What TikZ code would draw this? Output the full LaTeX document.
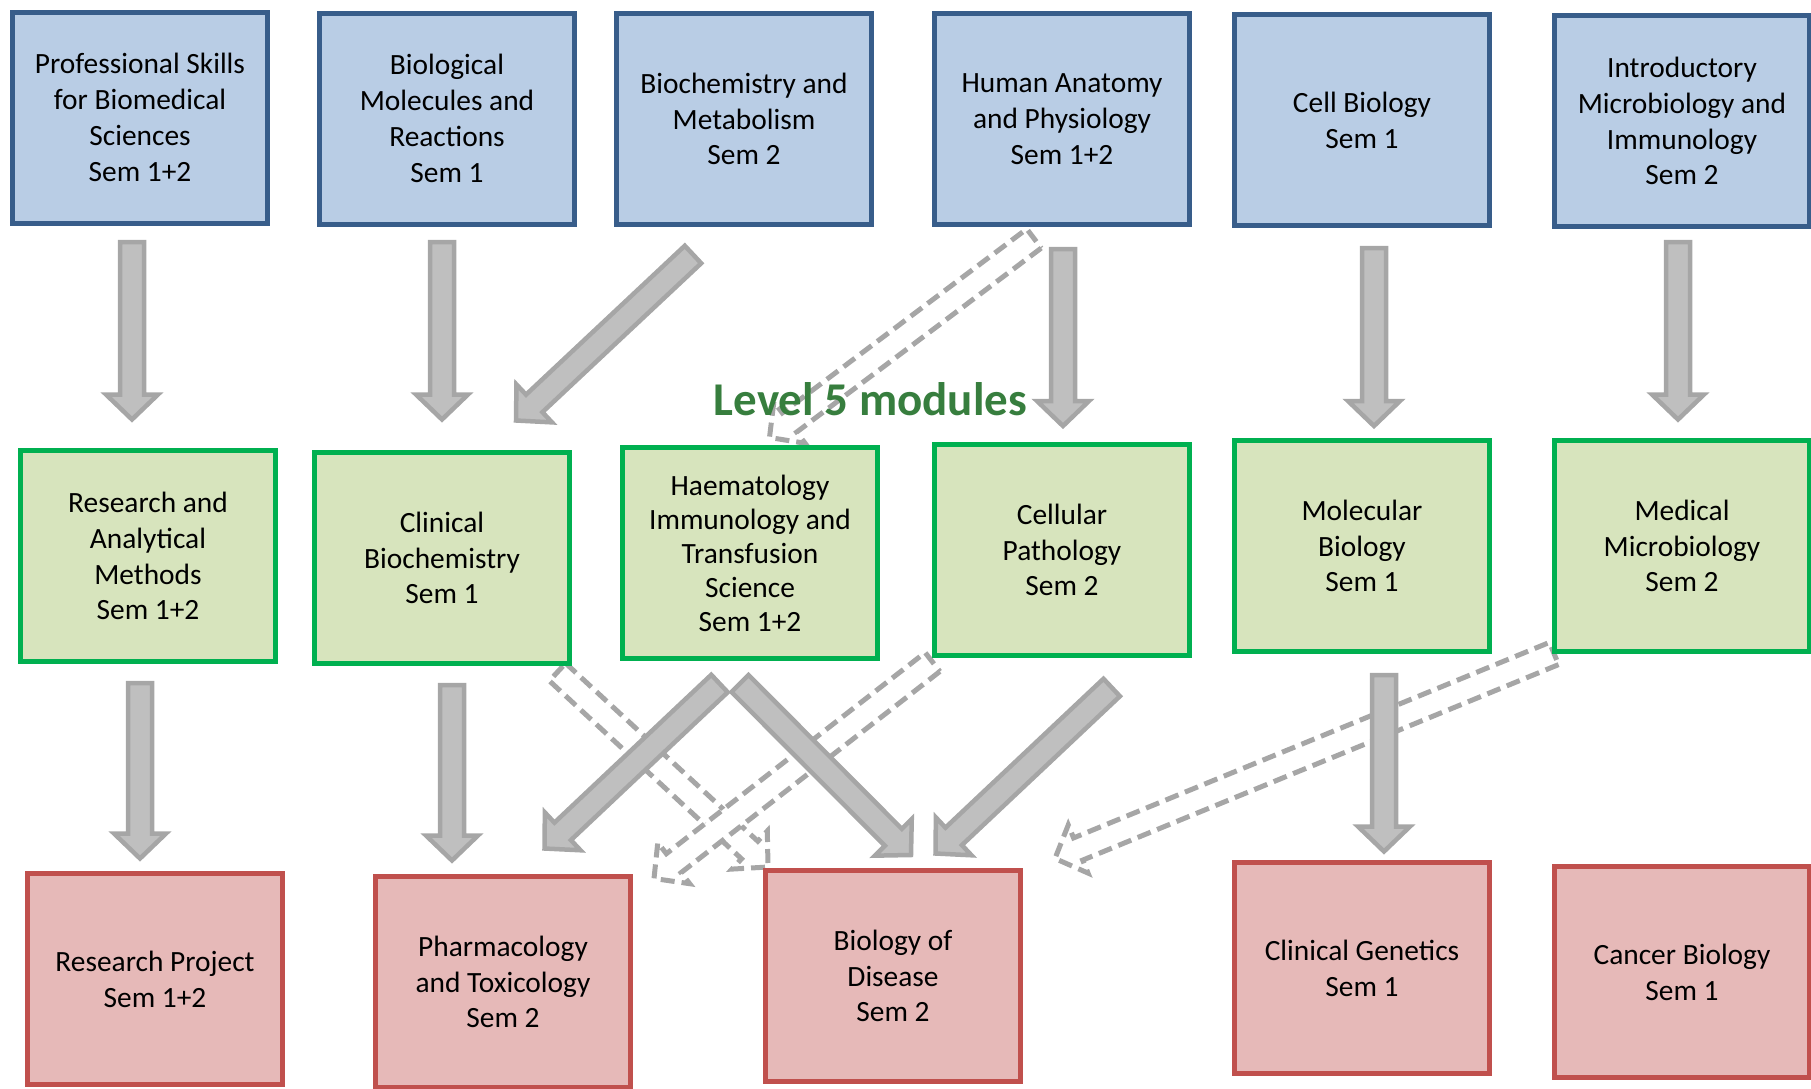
\documentclass[tikz,border=0pt]{standalone}
\usepackage{fontspec}
\setmainfont{Carlito}
\usetikzlibrary{calc}
\definecolor{bluefill}{RGB}{185,205,229}
\definecolor{blueline}{RGB}{56,93,138}
\definecolor{greenfill}{RGB}{215,228,189}
\definecolor{greenline}{RGB}{0,176,80}
\definecolor{redfill}{RGB}{230,185,184}
\definecolor{redline}{RGB}{192,80,77}
\definecolor{arrowfill}{RGB}{191,191,191}
\definecolor{arrowline}{RGB}{166,166,166}
\definecolor{titlegreen}{RGB}{55,126,62}
\pgfdeclarelayer{bg}
\pgfsetlayers{bg,main}
\tikzset{
	modbox/.style={rectangle,line width=2.5pt,minimum width=127.5pt,minimum height=105.5pt,inner sep=0pt,align=center,font=\fontsize{14.7}{17.9}\selectfont},
	lvfour/.style={modbox,fill=bluefill,draw=blueline},
	lvfive/.style={modbox,fill=greenfill,draw=greenline},
	lvsix/.style={modbox,fill=redfill,draw=redline},
	arrowbody/.style={fill=arrowfill,draw=arrowline,line width=2.25pt,line join=miter},
	dasharrow/.style={fill=white,draw=arrowline,line width=2.5pt,line join=miter,dash pattern=on 7pt off 3.5pt},
	lvtitle/.style={anchor=base,inner sep=0pt,text=titlegreen,font=\fontsize{23.5}{28}\selectfont\bfseries}
}
\newcommand{\blockarrow}[3][arrowbody]{%
	\path #2 coordinate (ta) #3 coordinate (tb);
	\path ($(tb)!12.5pt!(ta)$) coordinate (th);
	\draw [#1] ($(ta)!6pt!90:(tb)$) -- ($(th)!6pt!90:(tb)$) -- ($(th)!13pt!90:(tb)$) -- (tb)
		-- ($(th)!13pt!-90:(tb)$) -- ($(th)!6pt!-90:(tb)$) -- ($(ta)!6pt!-90:(tb)$) -- cycle;
}

\begin{document}
\begin{tikzpicture}[x=0.5pt,y=-0.5pt]
						\useasboundingbox (0,0) rectangle (1811,1088);

						\node [lvfour] (prof) at (140,117.5) {Professional Skills\\for Biomedical\\Sciences\\Sem 1+2};
						\node [lvfour] (biomol) at (447,118.5) {Biological\\Molecules and\\Reactions\\Sem 1};
						\node [lvfour] (biochem) at (744,119) {Biochemistry and\\Metabolism\\Sem 2};
						\node [lvfour] (anat) at (1062,119) {Human Anatomy\\and Physiology\\Sem 1+2};
						\node [lvfour] (cell) at (1362,120) {Cell Biology\\Sem 1};
						\node [lvfour] (micro) at (1682,121) {Introductory\\Microbiology and\\Immunology\\Sem 2};

						\node [lvfive] (resm) at (148,556) {Research and\\Analytical\\Methods\\Sem 1+2};
						\node [lvfive] (clinbio) at (442,558) {Clinical\\Biochemistry\\Sem 1};
						\node [lvfive,font=\fontsize{14.7}{17}\selectfont] (haem) at (750,553) {Haematology\\Immunology and\\Transfusion\\Science\\Sem 1+2};
						\node [lvfive] (cellpath) at (1062,550) {Cellular\\Pathology\\Sem 2};
						\node [lvfive] (molbio) at (1362,546) {Molecular\\Biology\\Sem 1};
						\node [lvfive] (medmic) at (1682,546) {Medical\\Microbiology\\Sem 2};

						\node [lvsix] (proj) at (155,979) {Research Project\\Sem 1+2};
						\node [lvsix] (pharm) at (503,982) {Pharmacology\\and Toxicology\\Sem 2};
						\node [lvsix] (disease) at (893,976) {Biology of\\Disease\\Sem 2};
						\node [lvsix] (genet) at (1362,968) {Clinical Genetics\\Sem 1};
						\node [lvsix] (cancer) at (1682,972) {Cancer Biology\\Sem 1};

						\begin{pgfonlayer}{bg}
						\blockarrow[dasharrow]{($(anat.south)+(-28,11.5)$)}{($(haem.north)+(19.5,-7.5)$)}
						\blockarrow[dasharrow]{($(clinbio.south)+(115.5,6)$)}{($(disease.north)+(-125,-1)$)}
						\blockarrow[dasharrow]{($(cellpath.south)+(-129.5,4)$)}{($(pharm.north)+(151,4.5)$)}
						\blockarrow[dasharrow]{($(medmic.south)+(-128,-0.5)$)}{($(disease.north)+(162,-9.5)$)}
						\end{pgfonlayer}

						\blockarrow{($(prof.south)+(-8,16.5)$)}{($(resm.north)+(-16,-28.5)$)}
						\blockarrow{($(biomol.south)+(-5,15.5)$)}{($(clinbio.north)+(0,-30.5)$)}
						\blockarrow{($(biochem.south)+(-51,27.5)$)}{($(clinbio.north)+(74,-29.5)$)}
						\blockarrow{($(anat.south)+(1,22)$)}{($(cellpath.north)+(1,-16)$)}
						\blockarrow{($(cell.south)+(12,20)$)}{($(molbio.north)+(12,-12)$)}
						\blockarrow{($(micro.south)+(-4,13)$)}{($(medmic.north)+(-4,-18.5)$)}

						\blockarrow{($(resm.south)+(-8,19)$)}{($(proj.north)+(-15,-12.5)$)}
						\blockarrow{($(clinbio.south)+(10,19)$)}{($(pharm.north)+(-51,-13.5)$)}
						\blockarrow{($(haem.south)+(-30.5,22.5)$)}{($(pharm.north)+(41.5,-25.5)$)}
						\blockarrow{($(haem.south)+(-10,22.5)$)}{($(disease.north)+(18,-13)$)}
						\blockarrow{($(cellpath.south)+(49.7,29.5)$)}{($(disease.north)+(42.5,-14.5)$)}
						\blockarrow{($(molbio.south)+(22,21)$)}{($(genet.north)+(22,-8.5)$)}

						\node [lvtitle] (lvl) at (870.5,415) {Level 5 modules};
					\end{tikzpicture}
\end{document}
